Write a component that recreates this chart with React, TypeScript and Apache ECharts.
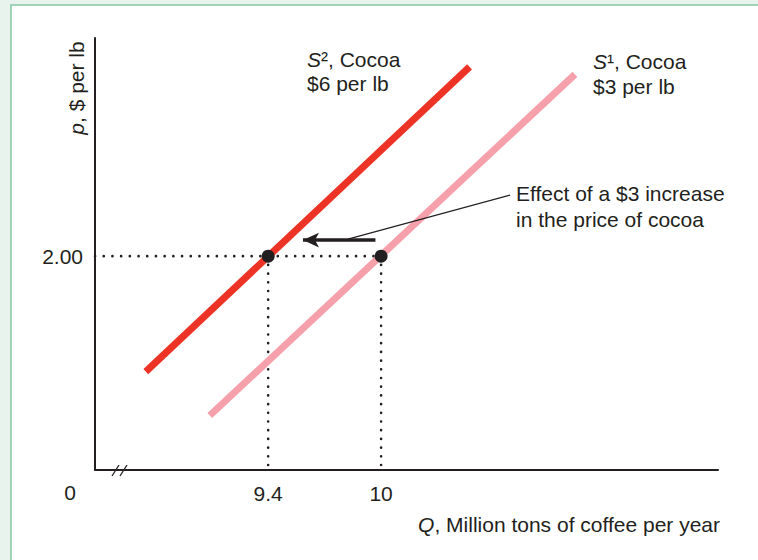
import React, { useEffect, useRef } from "react";
import * as echarts from "echarts";

// ---- data ----
const xTickValues = [9.4, 10];
const yTickValues = [2];
const s1Line = [
  [9.09, 0.51],
  [11.03, 3.7],
];
const s2Line = [
  [8.75, 0.92],
  [10.47, 3.77],
];
const equilibria = [
  [9.4, 2],
  [10, 2],
];
const shiftArrow = [
  [9.97, 2.15],
  [9.585, 2.15],
];
const leaderLine = [
  [9.824, 2.159],
  [10.685, 2.57],
];
const X_MIN = 8.48;
const X_MAX = 11.79;
const Y_MIN = 0;
const Y_MAX = 4.04;

const FONT = "Liberation Sans, Arial, sans-serif";
const FS = 21;
const INK = "#231f20";
const RED = "#ec3326";
const PINK = "#f5a0aa";

export default function App() {
  const ref = useRef<HTMLDivElement>(null);

  useEffect(() => {
    if (!ref.current) return;
    const chart = echarts.init(ref.current, null, { renderer: "svg" });

    const dotted = {
      color: INK,
      width: 2.6,
      type: [0.1, 8.6] as any,
      cap: "round" as any,
    };

    const rich = {
      i: { fontStyle: "italic", fontFamily: FONT, fontSize: FS, fill: INK },
      n: { fontFamily: FONT, fontSize: FS, fill: INK },
    };

    const txt = (x: number, y: number, text: string, align = "left") => ({
      type: "text",
      x,
      y,
      silent: true,
      style: {
        text,
        fill: INK,
        fontFamily: FONT,
        fontSize: FS,
        align,
        verticalAlign: "middle",
        rich,
      },
    });

    chart.setOption({
      animation: false,
      backgroundColor: "transparent",
      grid: { left: 95, right: 40, top: 38, bottom: 90 },
      xAxis: {
        type: "value",
        min: X_MIN,
        max: X_MAX,
        splitLine: { show: false },
        axisTick: { show: false },
        axisLine: { lineStyle: { color: INK, width: 2 } },
        axisLabel: {
          customValues: xTickValues,
          formatter: (v: number) => String(v),
          fontFamily: FONT,
          fontSize: FS,
          color: INK,
          margin: 13,
        },
      },
      yAxis: {
        type: "value",
        min: Y_MIN,
        max: Y_MAX,
        splitLine: { show: false },
        axisTick: { show: false },
        axisLine: { show: true, lineStyle: { color: INK, width: 2 } },
        axisLabel: {
          customValues: yTickValues,
          formatter: (v: number) => v.toFixed(2),
          fontFamily: FONT,
          fontSize: FS,
          color: INK,
          margin: 12,
        },
      },
      series: [
        {
          type: "line",
          data: [[X_MIN, equilibria[1][1]], equilibria[1]],
          showSymbol: false,
          lineStyle: dotted,
          z: 1,
        },
        {
          type: "line",
          data: [equilibria[0], [equilibria[0][0], Y_MIN]],
          showSymbol: false,
          lineStyle: dotted,
          z: 1,
        },
        {
          type: "line",
          data: [equilibria[1], [equilibria[1][0], Y_MIN]],
          showSymbol: false,
          lineStyle: dotted,
          z: 1,
        },
        {
          type: "line",
          data: s1Line,
          showSymbol: false,
          lineStyle: { color: PINK, width: 7, cap: "butt" },
          z: 2,
        },
        {
          type: "line",
          data: s2Line,
          showSymbol: false,
          lineStyle: { color: RED, width: 7, cap: "butt" },
          z: 3,
        },
        {
          type: "line",
          data: leaderLine,
          showSymbol: false,
          lineStyle: { color: INK, width: 1.2 },
          z: 4,
        },
        {
          type: "line",
          data: [],
          z: 5,
          markLine: {
            silent: true,
            symbol: ["none", "arrow"],
            symbolSize: [11, 16],
            label: { show: false },
            lineStyle: { color: INK, width: 3.5, type: "solid" },
            data: [[{ coord: shiftArrow[0] }, { coord: shiftArrow[1] }]],
          },
        },
        {
          type: "scatter",
          data: equilibria,
          symbolSize: 13,
          itemStyle: { color: INK, opacity: 1 },
          z: 6,
        },
      ],
      graphic: [
        txt(307, 59, "{i|S}{n|², Cocoa}"),
        txt(307, 83, "$6 per lb"),
        txt(593, 61, "{i|S}{n|¹, Cocoa}"),
        txt(593, 86, "$3 per lb"),
        txt(516, 193, "Effect of a $3 increase"),
        txt(516, 219, "in the price of cocoa"),
        txt(70, 492, "0", "center"),
        txt(720, 524, "{i|Q}{n|, Million tons of coffee per year}", "right"),
        {
          type: "text",
          x: 76,
          y: 88,
          rotation: Math.PI / 2,
          silent: true,
          style: {
            text: "{i|p}{n|, $ per lb}",
            fill: INK,
            fontFamily: FONT,
            fontSize: FS,
            align: "center",
            verticalAlign: "middle",
            rich,
          },
        },
        {
          type: "line",
          silent: true,
          shape: { x1: 112, y1: 476, x2: 119, y2: 465 },
          style: { stroke: INK, lineWidth: 1.3 },
        },
        {
          type: "line",
          silent: true,
          shape: { x1: 120, y1: 476, x2: 127, y2: 465 },
          style: { stroke: INK, lineWidth: 1.3 },
        },
      ],
    });

    return () => chart.dispose();
  }, []);

  return (
    <div
      style={{
        position: "fixed",
        left: 0,
        top: 0,
        width: 758,
        height: 560,
        background: "#e8f3ed",
        overflow: "hidden",
      }}
    >
      <div
        style={{
          position: "absolute",
          left: 10,
          top: 4,
          width: 800,
          height: 600,
          background: "#ffffff",
          borderLeft: "2px solid #9fd3b7",
          borderTop: "2px solid #9fd3b7",
        }}
      />
      <div
        ref={ref}
        style={{ position: "absolute", left: 0, top: 0, width: 758, height: 560 }}
      />
    </div>
  );
}
